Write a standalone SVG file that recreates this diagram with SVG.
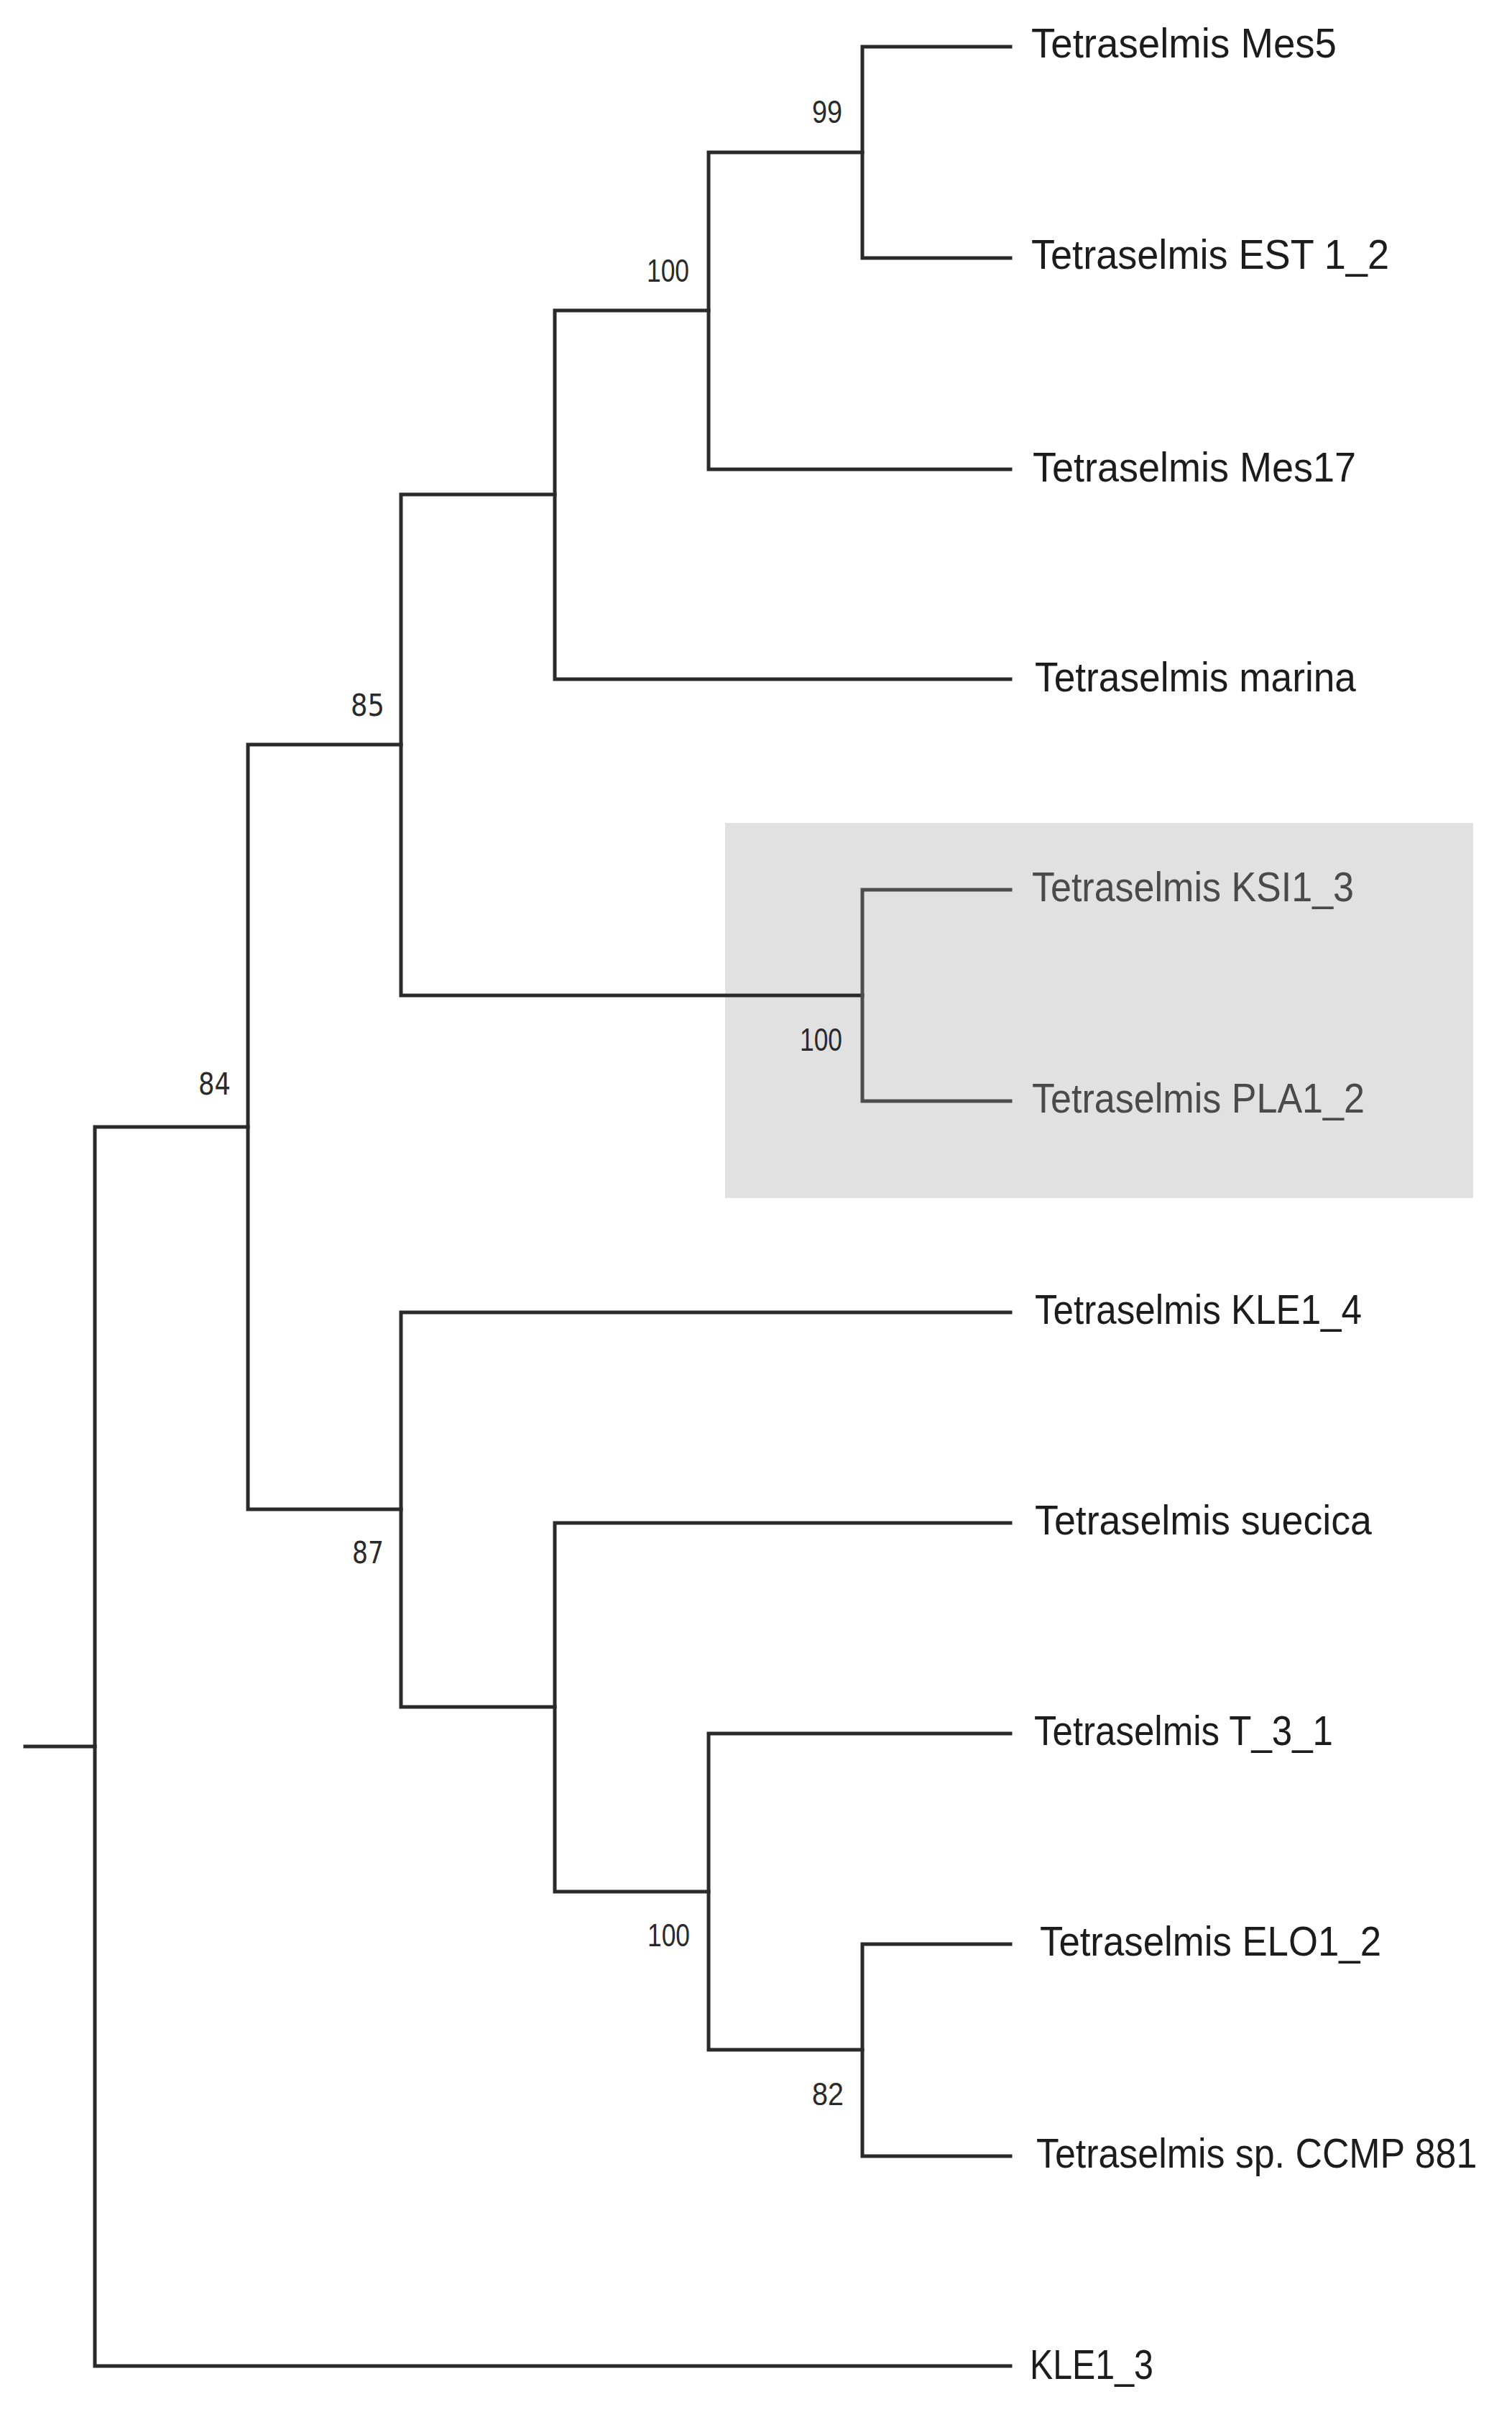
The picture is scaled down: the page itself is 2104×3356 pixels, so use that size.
<svg xmlns="http://www.w3.org/2000/svg" width="2104" height="3356" viewBox="0 0 2104 3356">
<style>
.br{fill:none;stroke:#2a2a2a;stroke-width:5;stroke-linecap:square;stroke-linejoin:miter}
.brg{fill:none;stroke:#4e4e4e;stroke-width:5;stroke-linecap:square}
.leaf{font-family:"Liberation Sans",Arial,sans-serif;font-size:58px;fill:#1c1c1c}
.leafg{font-family:"Liberation Sans",Arial,sans-serif;font-size:58px;fill:#4a4a4a}
.bs{font-family:"Liberation Sans",Arial,sans-serif;font-size:44px;fill:#2a2a2a;text-anchor:end}
.bs2{font-family:"DejaVu Sans",Verdana,sans-serif;font-size:42px;fill:#2a2a2a;text-anchor:end}
</style>
<rect width="2104" height="3356" fill="#ffffff"/>
<rect id="highlight" x="1009" y="1145" width="1041" height="522" fill="#e1e1e1"/>
<g id="connectors">
<path class="br" d="M35 2430 H132"/>
<path class="br" d="M345 1568 H132 V3292 H1406"/>
<path class="br" d="M558 1036 H345 V2100 H558"/>
<path class="br" d="M772 688 H558 V1385 H1200"/>
<path class="br" d="M986 432 H772 V945 H1406"/>
<path class="br" d="M1200 212 H986 V653 H1406"/>
<path class="br" d="M1406 65 H1200 V359 H1406"/>
<path class="brg" d="M1406 1238 H1200 V1532 H1406"/>
<path class="br" d="M1406 1826 H558 V2375 H772"/>
<path class="br" d="M1406 2119 H772 V2632 H986"/>
<path class="br" d="M1406 2412 H986 V2852 H1200"/>
<path class="br" d="M1406 2705 H1200 V3000 H1406"/>
</g>
<g id="leaf-mes5"><text class="leaf" x="1435" y="80" textLength="425" lengthAdjust="spacingAndGlyphs">Tetraselmis Mes5</text></g>
<g id="leaf-est1_2"><text class="leaf" x="1435" y="374" textLength="498" lengthAdjust="spacingAndGlyphs">Tetraselmis EST 1_2</text></g>
<g id="leaf-mes17"><text class="leaf" x="1437" y="670" textLength="450" lengthAdjust="spacingAndGlyphs">Tetraselmis Mes17</text></g>
<g id="leaf-marina"><text class="leaf" x="1440" y="962" textLength="447" lengthAdjust="spacingAndGlyphs">Tetraselmis marina</text></g>
<g id="leaf-ksi1_3"><text class="leafg" x="1436" y="1254" textLength="448" lengthAdjust="spacingAndGlyphs">Tetraselmis KSI1_3</text></g>
<g id="leaf-pla1_2"><text class="leafg" x="1436" y="1548" textLength="463" lengthAdjust="spacingAndGlyphs">Tetraselmis PLA1_2</text></g>
<g id="leaf-kle1_4"><text class="leaf" x="1440" y="1842" textLength="455" lengthAdjust="spacingAndGlyphs">Tetraselmis KLE1_4</text></g>
<g id="leaf-suecica"><text class="leaf" x="1440" y="2135" textLength="469" lengthAdjust="spacingAndGlyphs">Tetraselmis suecica</text></g>
<g id="leaf-t_3_1"><text class="leaf" x="1439" y="2428" textLength="416" lengthAdjust="spacingAndGlyphs">Tetraselmis T_3_1</text></g>
<g id="leaf-elo1_2"><text class="leaf" x="1447" y="2721" textLength="475" lengthAdjust="spacingAndGlyphs">Tetraselmis ELO1_2</text></g>
<g id="leaf-ccmp881"><text class="leaf" transform="translate(1442 3016) scale(0.895 1)" x="0" y="0">Tetraselmis sp. CCMP 881</text></g>
<g id="leaf-kle1_3"><text class="leaf" x="1433" y="3310" textLength="172" lengthAdjust="spacingAndGlyphs">KLE1_3</text></g>
<g id="node-99"><text class="bs" x="1172" y="171" textLength="42" lengthAdjust="spacingAndGlyphs">99</text></g>
<g id="node-100a"><text class="bs" x="959" y="392" textLength="59" lengthAdjust="spacingAndGlyphs">100</text></g>
<g id="node-85"><text class="bs2" x="535" y="996" textLength="47" lengthAdjust="spacingAndGlyphs">85</text></g>
<g id="node-100b"><text class="bs" x="1172" y="1462" textLength="59" lengthAdjust="spacingAndGlyphs" fill="#444">100</text></g>
<g id="node-84"><text class="bs2" x="321" y="1523" textLength="45" lengthAdjust="spacingAndGlyphs">84</text></g>
<g id="node-87"><text class="bs2" x="534" y="2175" textLength="44" lengthAdjust="spacingAndGlyphs">87</text></g>
<g id="node-100c"><text class="bs" x="960" y="2708" textLength="59" lengthAdjust="spacingAndGlyphs">100</text></g>
<g id="node-82"><text class="bs" x="1174" y="2929" textLength="44" lengthAdjust="spacingAndGlyphs">82</text></g>
</svg>
